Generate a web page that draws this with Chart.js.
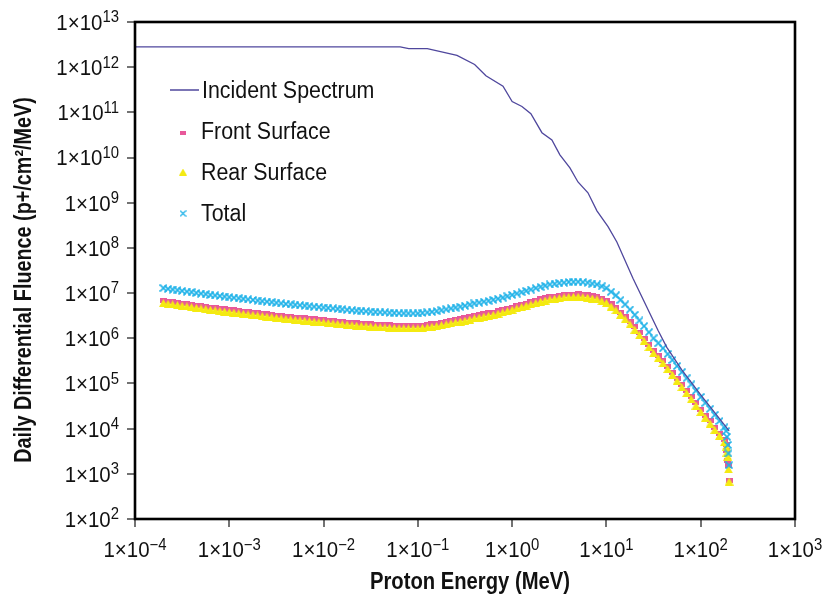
<!DOCTYPE html>
<html>
<head>
<meta charset="utf-8">
<script src="https://cdn.jsdelivr.net/npm/chart.js@4.4.1/dist/chart.umd.min.js"></script>
<style>
html,body{margin:0;padding:0;background:#fff;}
canvas{display:block;}
</style>
</head>
<body>
<canvas id="c" width="822" height="603"></canvas>
<script>
// ---------------- DATA ----------------
const xTickExps = [-4, -3, -2, -1, 0, 1, 2, 3];
const yTickExps = [2, 3, 4, 5, 6, 7, 8, 9, 10, 11, 12, 13];
const xTitle = 'Proton Energy (MeV)';
const yTitle = 'Daily Differential Fluence (p+/cm²/MeV)';
const seriesNames = ['Incident Spectrum', 'Front Surface', 'Rear Surface', 'Total'];

const incidentEnergy = [1e-4, 1e-3, 1e-2, 0.065, 0.08, 0.126, 0.26, 0.40, 0.527, 0.80, 1.0, 1.27, 1.58, 2.07, 2.64, 3.21, 4.10, 4.99, 6.37, 7.93, 10.4, 12.9, 19.1, 35.2, 43.7, 63, 100, 158, 200];
const incidentFluence = [2.82e12, 2.82e12, 2.82e12, 2.82e12, 2.57e12, 2.57e12, 1.82e12, 1.15e12, 6.46e11, 3.80e11, 1.74e11, 1.35e11, 9.33e10, 3.55e10, 2.45e10, 1.15e10, 5.89e9, 2.88e9, 1.66e9, 6.61e8, 2.95e8, 1.35e8, 2.14e7, 1.51e6, 6.31e5, 2.0e5, 5.6e4, 1.66e4, 8.9e3];

const energy = [
  2.00e-4, 2.24e-4, 2.51e-4, 2.82e-4, 3.16e-4, 3.55e-4, 3.98e-4, 4.47e-4, 5.01e-4, 5.62e-4, 6.31e-4, 7.08e-4, 7.94e-4, 8.91e-4,
  1.00e-3, 1.12e-3, 1.26e-3, 1.41e-3, 1.58e-3, 1.78e-3, 2.00e-3, 2.24e-3, 2.51e-3, 2.82e-3, 3.16e-3, 3.55e-3, 3.98e-3, 4.47e-3, 5.01e-3, 5.62e-3, 6.31e-3, 7.08e-3, 7.94e-3, 8.91e-3,
  1.00e-2, 1.12e-2, 1.26e-2, 1.41e-2, 1.58e-2, 1.78e-2, 2.00e-2, 2.24e-2, 2.51e-2, 2.82e-2, 3.16e-2, 3.55e-2, 3.98e-2, 4.47e-2, 5.01e-2, 5.62e-2, 6.31e-2, 7.08e-2, 7.94e-2, 8.91e-2,
  1.00e-1, 1.12e-1, 1.26e-1, 1.41e-1, 1.58e-1, 1.78e-1, 2.00e-1, 2.24e-1, 2.51e-1, 2.82e-1, 3.16e-1, 3.55e-1, 3.98e-1, 4.47e-1, 5.01e-1, 5.62e-1, 6.31e-1, 7.08e-1, 7.94e-1, 8.91e-1,
  1.00, 1.12, 1.26, 1.41, 1.58, 1.78, 2.00, 2.24, 2.51, 2.82, 3.16, 3.55, 3.98, 4.47, 5.01, 5.62, 6.31, 7.08, 7.94, 8.91,
  10.0, 11.2, 12.6, 14.1, 15.8, 17.8, 20.0, 22.4, 25.1, 28.2, 31.6, 35.5, 39.8, 44.7, 50.1, 56.2, 63.1, 70.8, 79.4, 89.1,
  100, 112, 126, 141, 158, 178,
  186, 190, 194, 197, 200
];

const frontSurface = [
  6.92e6, 6.68e6, 6.46e6, 6.24e6, 6.03e6, 5.82e6, 5.62e6, 5.43e6, 5.25e6, 5.07e6, 4.90e6, 4.76e6, 4.62e6, 4.49e6,
  4.37e6, 4.25e6, 4.12e6, 4.00e6, 3.89e6, 3.78e6, 3.67e6, 3.56e6, 3.47e6, 3.37e6, 3.27e6, 3.18e6, 3.09e6, 3.02e6, 2.95e6, 2.88e6, 2.82e6, 2.75e6, 2.69e6, 2.63e6,
  2.57e6, 2.51e6, 2.45e6, 2.40e6, 2.34e6, 2.29e6, 2.24e6, 2.20e6, 2.16e6, 2.13e6, 2.09e6, 2.05e6, 2.02e6, 2.00e6, 1.97e6, 1.95e6, 1.93e6, 1.91e6, 1.91e6, 1.91e6,
  1.91e6, 1.95e6, 2.00e6, 2.07e6, 2.14e6, 2.24e6, 2.34e6, 2.45e6, 2.57e6, 2.69e6, 2.82e6, 2.99e6, 3.16e6, 3.31e6, 3.47e6, 3.63e6, 3.80e6, 4.03e6, 4.27e6, 4.57e6,
  4.90e6, 5.25e6, 5.62e6, 6.03e6, 6.46e6, 6.92e6, 7.41e6, 7.85e6, 8.32e6, 8.61e6, 8.91e6, 9.18e6, 9.44e6, 9.51e6, 9.55e6, 9.33e6, 9.12e6, 8.71e6, 8.32e6, 7.59e6,
  6.92e6, 5.75e6, 4.79e6, 3.80e6, 3.02e6, 2.32e6, 1.78e6, 1.33e6, 1.00e6, 7.33e5, 5.37e5, 4.17e5, 3.24e5, 2.40e5, 1.78e5, 1.30e5, 9.55e4, 7.00e4, 5.13e4, 3.72e4,
  2.69e4, 2.00e4, 1.48e4, 1.08e4, 7.94e3, 5.75e3,
  4.57e3, 3.31e3, 2.00e3, 1.55e3, 7.08e2
];

const rearSurface = [
  6.03e6, 5.82e6, 5.62e6, 5.43e6, 5.25e6, 5.07e6, 4.90e6, 4.73e6, 4.57e6, 4.42e6, 4.27e6, 4.15e6, 4.03e6, 3.91e6,
  3.80e6, 3.70e6, 3.59e6, 3.48e6, 3.39e6, 3.30e6, 3.20e6, 3.10e6, 3.02e6, 2.94e6, 2.85e6, 2.77e6, 2.69e6, 2.63e6, 2.57e6, 2.51e6, 2.45e6, 2.40e6, 2.34e6, 2.29e6,
  2.24e6, 2.19e6, 2.14e6, 2.09e6, 2.04e6, 2.00e6, 1.95e6, 1.91e6, 1.88e6, 1.85e6, 1.82e6, 1.79e6, 1.76e6, 1.74e6, 1.72e6, 1.70e6, 1.68e6, 1.67e6, 1.66e6, 1.66e6,
  1.66e6, 1.70e6, 1.74e6, 1.80e6, 1.86e6, 1.95e6, 2.04e6, 2.14e6, 2.24e6, 2.34e6, 2.45e6, 2.60e6, 2.75e6, 2.88e6, 3.02e6, 3.16e6, 3.31e6, 3.51e6, 3.72e6, 3.98e6,
  4.27e6, 4.57e6, 4.90e6, 5.25e6, 5.62e6, 6.03e6, 6.46e6, 6.84e6, 7.24e6, 7.50e6, 7.76e6, 8.00e6, 8.22e6, 8.28e6, 8.32e6, 8.13e6, 7.94e6, 7.59e6, 7.24e6, 6.61e6,
  6.03e6, 5.01e6, 4.17e6, 3.31e6, 2.63e6, 2.02e6, 1.55e6, 1.16e6, 8.71e5, 6.38e5, 4.68e5, 3.63e5, 2.82e5, 2.09e5, 1.55e5, 1.14e5, 8.32e4, 6.10e4, 4.47e4, 3.24e4,
  2.34e4, 1.74e4, 1.29e4, 9.44e3, 6.92e3, 5.01e3,
  3.98e3, 2.95e3, 2.40e3, 1.26e3, 6.76e2
];

const totalFluence = [
  1.29e7, 1.24e7, 1.20e7, 1.16e7, 1.12e7, 1.08e7, 1.05e7, 1.01e7, 9.77e6, 9.44e6, 9.12e6, 8.87e6, 8.61e6, 8.36e6,
  8.13e6, 7.91e6, 7.67e6, 7.45e6, 7.24e6, 7.05e6, 6.84e6, 6.64e6, 6.46e6, 6.28e6, 6.10e6, 5.92e6, 5.75e6, 5.62e6, 5.50e6, 5.37e6, 5.25e6, 5.13e6, 5.01e6, 4.90e6,
  4.79e6, 4.68e6, 4.57e6, 4.47e6, 4.37e6, 4.27e6, 4.17e6, 4.09e6, 4.03e6, 3.96e6, 3.89e6, 3.82e6, 3.76e6, 3.72e6, 3.67e6, 3.63e6, 3.59e6, 3.56e6, 3.55e6, 3.55e6,
  3.55e6, 3.63e6, 3.72e6, 3.85e6, 3.98e6, 4.17e6, 4.37e6, 4.57e6, 4.79e6, 5.01e6, 5.25e6, 5.56e6, 5.89e6, 6.17e6, 6.46e6, 6.76e6, 7.08e6, 7.50e6, 7.94e6, 8.51e6,
  9.12e6, 9.77e6, 1.05e7, 1.12e7, 1.20e7, 1.29e7, 1.38e7, 1.46e7, 1.55e7, 1.60e7, 1.66e7, 1.71e7, 1.76e7, 1.77e7, 1.78e7, 1.74e7, 1.70e7, 1.62e7, 1.55e7, 1.41e7,
  1.29e7, 1.07e7, 8.91e6, 7.08e6, 5.62e6, 4.32e6, 3.31e6, 2.48e6, 1.86e6, 1.36e6, 1.00e6, 7.76e5, 6.03e5, 4.47e5, 3.31e5, 2.43e5, 1.78e5, 1.30e5, 9.55e4, 6.92e4,
  5.01e4, 3.72e4, 2.75e4, 2.02e4, 1.48e4, 1.07e4,
  8.91e3, 6.61e3, 4.37e3, 2.82e3, 1.55e3
];

// ---------------- STYLE ----------------
const FONT = '"Liberation Sans", Arial, Helvetica, sans-serif';
const SX = 0.93;
const COL_INC = '#4F479D', COL_FRONT = '#E8589A', COL_REAR = '#F4EA12', COL_TOTAL = '#1FB2E8';

function makeMarker(w, h, draw) {
  const c = document.createElement('canvas');
  c.width = w; c.height = h;
  draw(c.getContext('2d'), w, h);
  return c;
}
const mkFront = makeMarker(7, 5, (g, w, h) => { g.fillStyle = COL_FRONT; g.fillRect(0, 0, w, h); });
const mkRear = makeMarker(9, 8, (g, w, h) => {
  g.fillStyle = COL_REAR; g.beginPath(); g.moveTo(w / 2, 0); g.lineTo(w, h); g.lineTo(0, h); g.closePath(); g.fill();
});
const mkTotal = makeMarker(8, 8, (g, w, h) => {
  g.strokeStyle = COL_TOTAL; g.lineWidth = 1.6; g.beginPath();
  g.moveTo(0.5, 0.5); g.lineTo(w - 0.5, h - 0.5); g.moveTo(w - 0.5, 0.5); g.lineTo(0.5, h - 0.5); g.stroke();
});
const lgFront = makeMarker(6, 4, (g, w, h) => { g.fillStyle = COL_FRONT; g.fillRect(0, 0, w, h); });
const lgRear = makeMarker(8, 7, (g, w, h) => {
  g.fillStyle = COL_REAR; g.beginPath(); g.moveTo(w / 2, 0); g.lineTo(w, h); g.lineTo(0, h); g.closePath(); g.fill();
});
const lgTotal = makeMarker(7, 7, (g, w, h) => {
  g.strokeStyle = COL_TOTAL; g.lineWidth = 1.2; g.beginPath();
  g.moveTo(0.5, 0.5); g.lineTo(w - 0.5, h - 0.5); g.moveTo(w - 0.5, 0.5); g.lineTo(0.5, h - 0.5); g.stroke();
});

function pts(xs, ys) { return xs.map((v, i) => ({ x: v, y: ys[i] })); }

function txt(ctx, s, x, y, size, bold, align, sx) {
  ctx.save();
  ctx.font = (bold ? 'bold ' : '') + size + 'px ' + FONT;
  ctx.textAlign = align || 'left';
  ctx.textBaseline = 'alphabetic';
  ctx.translate(x, y);
  ctx.scale(sx || SX, 1);
  ctx.fillText(s, 0, 0);
  ctx.restore();
}
function width(ctx, s, size, bold, sx) {
  ctx.font = (bold ? 'bold ' : '') + size + 'px ' + FONT;
  return ctx.measureText(s).width * (sx || SX);
}
function powLabel(ctx, exp, x, base, align) {
  const main = '1×10';
  const sup = exp < 0 ? '\u2212' + Math.abs(exp) : String(exp);
  const MS = 22, SS = 16;
  const wm = width(ctx, main, MS), ws = width(ctx, sup, SS);
  const tot = wm + ws;
  const x0 = align === 'right' ? x - tot : (align === 'center' ? x - tot / 2 : x);
  txt(ctx, main, x0, base, MS, false, 'left');
  txt(ctx, sup, x0 + wm, base - 7.5, SS, false, 'left');
}

const decor = {
  id: 'decor',
  afterDraw(chart) {
    const { ctx, chartArea: a, scales: { x, y } } = chart;
    ctx.save();
    ctx.fillStyle = '#111';
    // tick marks
    ctx.strokeStyle = '#444'; ctx.lineWidth = 1.5;
    yTickExps.forEach(e => {
      const py = Math.round(y.getPixelForValue(Math.pow(10, e)));
      ctx.beginPath(); ctx.moveTo(a.left - 8, py); ctx.lineTo(a.left, py); ctx.stroke();
    });
    xTickExps.forEach(e => {
      const px = Math.round(x.getPixelForValue(Math.pow(10, e)));
      ctx.beginPath(); ctx.moveTo(px, a.bottom); ctx.lineTo(px, a.bottom + 8); ctx.stroke();
    });
    // frame
    ctx.strokeStyle = '#000'; ctx.lineWidth = 2.6;
    ctx.strokeRect(a.left, a.top, a.right - a.left, a.bottom - a.top);
    // tick labels
    ctx.fillStyle = '#111';
    yTickExps.forEach(e => {
      const py = y.getPixelForValue(Math.pow(10, e));
      powLabel(ctx, e, 119, py + 7.9, 'right');
    });
    xTickExps.forEach(e => {
      const px = x.getPixelForValue(Math.pow(10, e));
      powLabel(ctx, e, px, 557, 'center');
    });
    // axis titles
    txt(ctx, xTitle, 470, 589, 23, true, 'center', 0.88);
    ctx.save();
    ctx.translate(31, 280);
    ctx.rotate(-Math.PI / 2);
    txt(ctx, yTitle, 0, 0, 23, true, 'center', 0.86);
    ctx.restore();
    // legend
    ctx.strokeStyle = COL_INC; ctx.lineWidth = 1.5;
    ctx.beginPath(); ctx.moveTo(170, 90); ctx.lineTo(199, 90); ctx.stroke();
    txt(ctx, seriesNames[0], 202, 98, 23, false, 'left');
    ctx.drawImage(lgFront, 183 - lgFront.width / 2, 133 - lgFront.height / 2);
    txt(ctx, seriesNames[1], 201, 139, 23, false, 'left');
    ctx.drawImage(lgRear, 183 - lgRear.width / 2, 172 - lgRear.height / 2);
    txt(ctx, seriesNames[2], 201, 180, 23, false, 'left');
    ctx.drawImage(lgTotal, 183 - lgTotal.width / 2, 213.5 - lgTotal.height / 2);
    txt(ctx, seriesNames[3], 201, 221, 23, false, 'left');
    ctx.restore();
  }
};

new Chart(document.getElementById('c'), {
  type: 'scatter',
  data: {
    datasets: [
      { label: seriesNames[0], data: pts(incidentEnergy, incidentFluence), showLine: true, borderColor: COL_INC, borderWidth: 1.3, pointRadius: 0, tension: 0, order: 0 },
      { label: seriesNames[1], data: pts(energy, frontSurface), pointStyle: mkFront, pointRadius: 3, order: 3 },
      { label: seriesNames[2], data: pts(energy, rearSurface), pointStyle: mkRear, pointRadius: 3, order: 2 },
      { label: seriesNames[3], data: pts(energy, totalFluence), pointStyle: mkTotal, pointRadius: 3, order: 1 }
    ]
  },
  options: {
    responsive: false,
    animation: false,
    devicePixelRatio: 1,
    layout: { padding: { left: 0, right: 27, top: 22, bottom: 0 } },
    plugins: { legend: { display: false }, tooltip: { enabled: false } },
    scales: {
      x: {
        type: 'logarithmic', min: 1e-4, max: 1e3,
        afterBuildTicks: s => { s.ticks = xTickExps.map(e => ({ value: Math.pow(10, e) })); },
        ticks: { display: false }, grid: { display: false }, border: { display: false },
        afterFit: s => { s.height = 84; }
      },
      y: {
        type: 'logarithmic', min: 1e2, max: 1e13,
        afterBuildTicks: s => { s.ticks = yTickExps.map(e => ({ value: Math.pow(10, e) })); },
        ticks: { display: false }, grid: { display: false }, border: { display: false },
        afterFit: s => { s.width = 135; }
      }
    }
  },
  plugins: [decor]
});
</script>
</body>
</html>
